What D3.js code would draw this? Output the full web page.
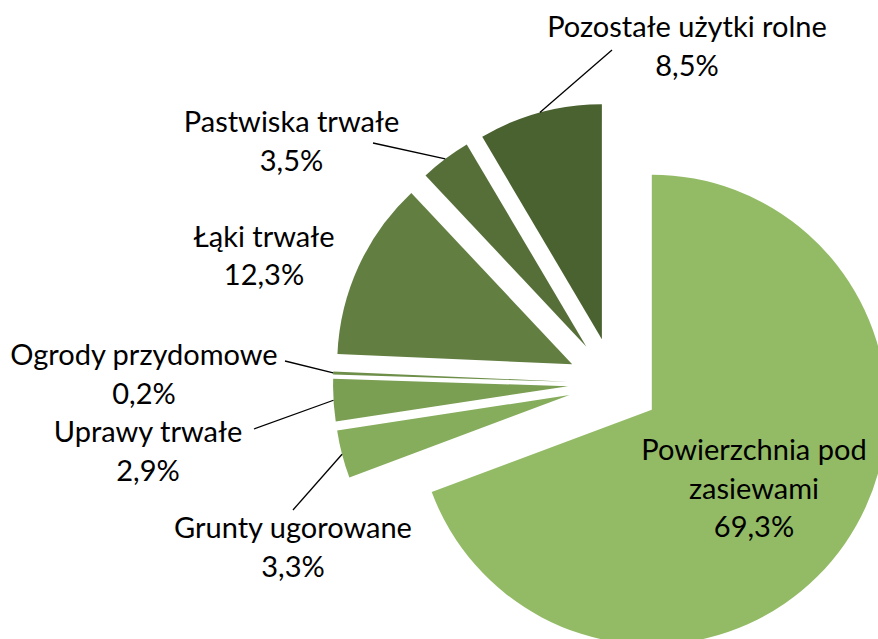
<!DOCTYPE html>
<html>
<head>
<meta charset="utf-8">
<script src="https://cdnjs.cloudflare.com/ajax/libs/d3/7.8.5/d3.min.js"></script>
<style>
  html, body { margin: 0; padding: 0; background: #ffffff; overflow: hidden; }
  svg { display: block; }
</style>
</head>
<body>
<svg id="pie-chart"></svg>
<script>
// Kategorie w kolejnosci rysowania (zgodnie z ruchem wskazowek zegara od godz. 12)
const categories = [
    'Powierzchnia pod zasiewami',
    'Grunty ugorowane',
    'Uprawy trwałe',
    'Ogrody przydomowe',
    'Łąki trwałe',
    'Pastwiska trwałe',
    'Pozostałe użytki rolne'
];

// Udzial procentowy
const shares = [69.3, 3.3, 2.9, 0.2, 12.3, 3.5, 8.5];

// Tekst etykiet, podzielony na linie tak jak na wykresie
const labelLines = [
    ['Powierzchnia pod', 'zasiewami'],
    ['Grunty ugorowane'],
    ['Uprawy trwałe'],
    ['Ogrody przydomowe'],
    ['Łąki trwałe'],
    ['Pastwiska trwałe'],
    ['Pozostałe użytki rolne']
];

const data = categories.map((c, i) => ({ category: c, value: shares[i], lines: labelLines[i] }));

const width = 878;
const height = 639;
const radius = 235;
const explode = 46; // odsuniecie wycinkow od srodka
const cx = 614;
const cy = 383.5;
const lineHeight = 38.5;

const colorScale = d3.scaleOrdinal()
    .domain(categories)
    .range(['#93bb66', '#86ad5c', '#7a9e52', '#6e8f4a', '#627e41', '#566f39', '#4a6130']);

// Polozenie etykiet (srodek tekstu, pierwsza linia bazowa) i poczatek linii odniesienia
const labelLayout = {
    'Powierzchnia pod zasiewami': { x: 754, y: 460, leader: null },
    'Grunty ugorowane': { x: 293, y: 538, leader: [293, 510] },
    'Uprawy trwałe': { x: 148, y: 442, leader: [254, 429] },
    'Ogrody przydomowe': { x: 144, y: 365, leader: [285, 361] },
    'Łąki trwałe': { x: 264, y: 246.5, leader: null },
    'Pastwiska trwałe': { x: 291.5, y: 132, leader: [373, 143] },
    'Pozostałe użytki rolne': { x: 687, y: 37, leader: [612, 50] }
};

const pl = d3.formatLocale({ decimal: ',', thousands: ' ', grouping: [3], currency: ['', ' zł'] });
const fmt = pl.format('.1f');

const svg = d3.select('#pie-chart')
    .attr('width', width)
    .attr('height', height);

svg.append('rect')
    .attr('width', width)
    .attr('height', height)
    .attr('fill', '#ffffff');

const pie = d3.pie().value(d => d.value).sort(null);
const arc = d3.arc().innerRadius(0).outerRadius(radius);
const arcs = pie(data);

// wektor odsuniecia wycinka wzdluz dwusiecznej
const midAngle = d => (d.startAngle + d.endAngle) / 2;
const shift = d => [Math.sin(midAngle(d)) * explode, -Math.cos(midAngle(d)) * explode];

const g = svg.append('g')
    .attr('transform', `translate(${cx}, ${cy})`);

g.selectAll('.slice')
    .data(arcs)
    .enter().append('path')
    .attr('class', 'slice')
    .attr('transform', d => `translate(${shift(d)[0]}, ${shift(d)[1]})`)
    .attr('d', arc)
    .style('fill', d => colorScale(d.data.category));

// Linie odniesienia: od etykiety do srodka luku wycinka
const withLeader = arcs.filter(d => labelLayout[d.data.category].leader);

svg.selectAll('.leader')
    .data(withLeader)
    .enter().append('line')
    .attr('class', 'leader')
    .attr('x1', d => labelLayout[d.data.category].leader[0])
    .attr('y1', d => labelLayout[d.data.category].leader[1])
    .attr('x2', d => cx + shift(d)[0] + Math.sin(midAngle(d)) * radius)
    .attr('y2', d => cy + shift(d)[1] - Math.cos(midAngle(d)) * radius)
    .style('stroke', '#000000')
    .style('stroke-width', 1.3);

// Etykiety
const labels = svg.selectAll('.label')
    .data(arcs)
    .enter().append('text')
    .attr('class', 'label')
    .attr('text-anchor', 'middle')
    .style('font-family', 'Lato, sans-serif')
    .style('font-size', '29px')
    .style('fill', '#000000');

labels.each(function (d) {
    const pos = labelLayout[d.data.category];
    const lines = d.data.lines.concat([fmt(d.data.value) + '%']);
    d3.select(this).selectAll('tspan')
        .data(lines)
        .enter().append('tspan')
        .attr('x', pos.x)
        .attr('y', (t, i) => pos.y + i * lineHeight)
        .text(t => t);
});
</script>
</body>
</html>
